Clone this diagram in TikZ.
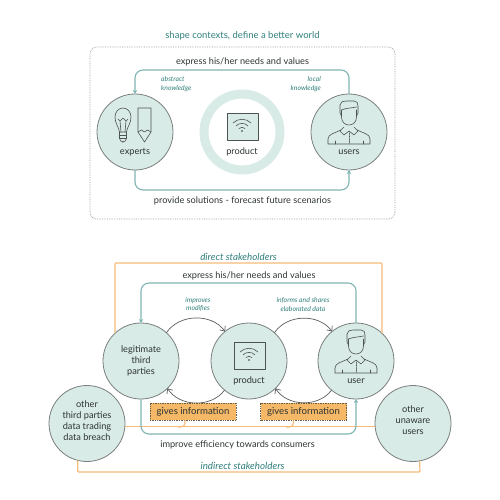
\documentclass[tikz,border=0pt]{standalone}
\usepackage{fontspec}
\setmainfont{Lato}
\usetikzlibrary{positioning,arrows.meta,calc}
\definecolor{mint}{HTML}{D8EBE6}
\definecolor{tealtxt}{HTML}{2F7F7A}
\definecolor{tealline}{HTML}{7FB5B3}
\definecolor{peach}{HTML}{F5BC78}
\definecolor{amber}{HTML}{F4B866}
\definecolor{ink}{HTML}{2E3434}
\definecolor{rim}{HTML}{7A7F7E}
\tikzset{
  iconline/.style={draw=ink!85, line width=0.6pt, line join=round, line cap=round},
  bulbicon/.pic={
    \draw[iconline] (-15.5,0) .. controls (-16,-5) and (-20,-8) .. (-20,-15) .. controls (-20,-20) and (-16.5,-24) .. (-12,-24) .. controls (-7.5,-24) and (-4,-20) .. (-4,-15) .. controls (-4,-8) and (-8,-5) .. (-8.5,0) -- cycle;
    \draw[iconline, rounded corners=1.5pt] (-15.5,0) -- (-15.5,8) -- (-13,10) -- (-11,10) -- (-8.5,8) -- (-8.5,0);
    \draw[iconline] (-15.5,3) -- (-8.5,3) (-15.5,6) -- (-8.5,6);
    \draw[iconline] (-14,0) -- (-15,-11) -- (-17,-13) (-10,0) -- (-9,-11) -- (-7,-13) (-15,-11) -- (-12,-14) -- (-9,-11);
    \draw[iconline] (3,-24) -- (16,-24) -- (16,0) -- (9.5,10) -- (3,0) -- cycle;
    \draw[iconline] (3,0) -- (6.5,-2) -- (9.5,0) -- (12.5,-2) -- (16,0);
  },
  deviceicon/.pic={
    \draw[iconline, fill=mint] (-15,-19) rectangle (16,8);
    \draw[iconline] (-9,-9) .. controls (-4,-14) and (4,-14) .. (9,-9);
    \draw[iconline] (-6,-6) .. controls (-3,-9.5) and (3,-9.5) .. (6,-6);
    \draw[iconline] (-3,-3.5) .. controls (-1,-5) and (1,-5) .. (3,-3.5);
    \fill[ink] (0,-1) circle[radius=0.8];
  },
  personicon/.pic={
    \draw[iconline] (-7.5,-22) -- (-7.5,-15) .. controls (-7.5,-10) and (-4,-7) .. (0,-7) .. controls (4,-7) and (7.5,-10) .. (7.5,-15) -- (7.5,-22);
    \draw[iconline] (-7.5,-16) -- (-9,-19) -- (-9,-27) .. controls (-9,-30) and (-6,-31) .. (-3,-31) -- (5,-31) .. controls (8,-31) and (9,-29) .. (9,-26) -- (9,-19) -- (7.5,-16);
    \draw[iconline] (-7.5,-22) .. controls (-3,-24) and (3,-24) .. (7.5,-25);
    \draw[iconline] (-5,-5) -- (-9,-1) -- (-5,3) -- (0,-1) -- (5,3) -- (9,-1) -- (5,-5);
    \draw[iconline] (-8,-2) .. controls (-14,1) and (-21,2) .. (-21,7) -- (-21,12) -- (21,12) -- (21,7) .. controls (21,2) and (14,1) .. (8,-2);
    \draw[iconline] (-14,12) -- (-14,9) (14,12) -- (14,9);
    \draw[iconline, densely dotted] (0,1) -- (0,12);
  }
}
\begin{document}
\begin{tikzpicture}[
  x=1pt, y=-1pt,
  font=\fontsize{9.2}{11}\selectfont,
  every node/.style={align=center, text=ink, inner sep=0pt},
  hub/.style={circle, draw=rim, fill=mint, line width=0.8pt, minimum size=76pt, outer sep=0pt},
  ring/.style={circle, draw=mint, line width=9pt, minimum size=76pt, outer sep=0pt},
  frame/.style={draw=rim!80, densely dotted, line width=0.7pt, rounded corners=7pt, minimum width=305pt, minimum height=172pt},
  info/.style={draw=ink!70!amber, densely dotted, fill=amber, line width=0.7pt, minimum width=86pt, minimum height=17pt, font=\fontsize{9.6}{11}\selectfont},
  head/.style={text=tealtxt, font=\fontsize{9.5}{11}\selectfont},
  headit/.style={text=tealtxt, font=\fontsize{9.8}{11}\selectfont\itshape},
  note/.style={text=tealtxt, font=\fontsize{6.8}{8.4}\selectfont\itshape},
  arr/.style={-{Stealth[length=4pt,width=4.5pt]}, draw=tealline, line width=1.1pt, rounded corners=8pt},
  loopy/.style={-{Straight Barb[length=4pt,width=7pt]}, draw=ink!80, line width=0.7pt},
  stake/.style={draw=peach, line width=1.2pt, rounded corners=1pt}
]
\useasboundingbox (0,0) rectangle (500,500);
\node[head] (hdr-shape) at (242.5,36) {shape contexts, define a better world};
\node[frame] (box-frame) at (242.5,133) {};
\node (lbl-express-a) at (242.5,62) {express his/her needs and values};
\node (lbl-provide) at (242.5,201) {provide solutions - forecast future scenarios};
\node[note, anchor=west, align=left] (note-abstract) at (161,84) {abstract\\knowledge};
\node[note, anchor=east, align=right] (note-local) at (321,84) {local\\knowledge};
\node[hub] (hub-experts) at (135,132) {};
\node[ring] (hub-product) at (242,132) {};
\node[hub] (hub-users) at (349,132) {};
\pic at (135,132) {bulbicon};
\pic at (242,132) {deviceicon};
\pic at (349,132) {personicon};
\node (lbl-experts) at (135,152) {experts};
\node (lbl-product) at (242,152) {product};
\node (lbl-users) at (349,152) {users};
\coordinate (top-a) at (135,70);
\coordinate (bot-a) at (349,190);
\draw[arr] (hub-users.north) |- (top-a) -- (hub-experts.north);
\draw[arr] (hub-experts.south) |- (bot-a) -- (hub-users.south);
\node[hub] (hub-legit) at (141,361) {legitimate\\third\\parties};
\node[hub] (hub-prod) at (249,361) {};
\node[hub] (hub-user) at (356,361) {};
\node[hub] (hub-other) at (87,423.5) {};
\node[hub] (hub-unaware) at (413,423.5) {};
\node (lbl-other) at (87,420.5) {other\\third parties\\data trading\\data breach};
\node (lbl-unaware) at (413,420) {other\\unaware\\users};
\pic at (249,361) {deviceicon};
\pic at (356,361) {personicon};
\node (lbl-prod) at (249,381) {product};
\node (lbl-user) at (356,381) {user};
\coordinate (stake-top) at (382,263);
\coordinate (stake-bot) at (420,472);
\draw[stake] (hub-legit.133) |- (stake-top) -- (hub-user.47);
\draw[stake] (hub-other.-104) |- (stake-bot) -- (hub-unaware.-80);
\draw[stake] (hub-other.-5) -- (hub-unaware.185);
\coordinate (top-b) at (141,283);
\coordinate (bot-b) at (356,434);
\draw[arr] (hub-user.north) |- (top-b) -- (hub-legit.north);
\draw[arr] (hub-legit.south) |- (bot-b) -- (hub-user.south);
\draw[loopy] (hub-legit.48) to[bend left=55] (hub-prod.129);
\draw[loopy] (hub-prod.48) to[bend left=55] (hub-user.129);
\draw[loopy] (hub-prod.-130) to[bend left=55] (hub-legit.-46);
\draw[loopy] (hub-user.-130) to[bend left=55] (hub-prod.-46);
\node[info] (box-info-a) at (193,411.5) {gives information};
\node[info] (box-info-b) at (303.5,411.5) {gives information};
\coordinate (tap-a) at (178,427);
\coordinate (tap-b) at (286,427);
\draw[stake, rounded corners=4pt] ([xshift=-8pt]box-info-a.south) |- (tap-a);
\draw[stake, rounded corners=4pt] ([xshift=-10pt]box-info-b.south) |- (tap-b);
\node[headit] (hdr-direct) at (238.5,257) {direct stakeholders};
\node (lbl-express-b) at (249,276) {express his/her needs and values};
\node[note] (note-improves) at (198,304.5) {improves\\modifies};
\node[note] (note-informs) at (303,304.5) {informs and shares\\elaborated data};
\node (lbl-improve) at (237.5,445) {improve efficiency towards consumers};
\node[headit] (hdr-indirect) at (242.5,466) {indirect stakeholders};
\end{tikzpicture}
\end{document}
